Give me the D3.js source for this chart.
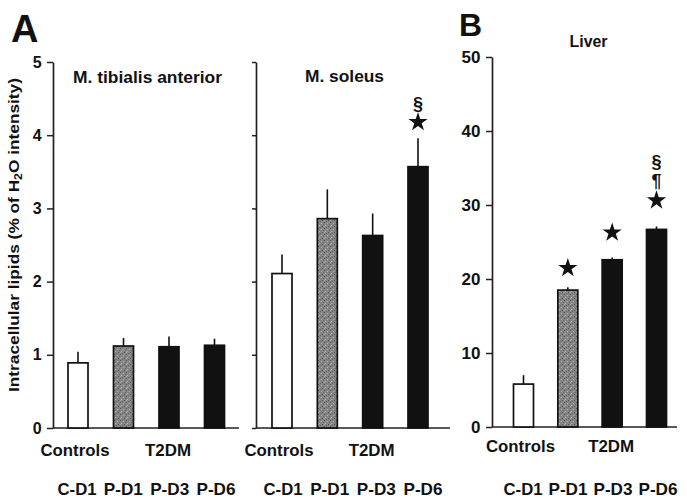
<!DOCTYPE html>
<html>
<head>
<meta charset="utf-8">
<script src="https://d3js.org/d3.v7.min.js"></script>
<style>
  html, body { margin: 0; padding: 0; background: #fff; }
  svg { display: block; }
  text { font-family: "Liberation Sans", Arial, Helvetica, sans-serif; fill: #111; }
</style>
</head>
<body>
<script>
// ---------- data ----------
const categories = ["C-D1", "P-D1", "P-D3", "P-D6"];
const groupLabels = ["Controls", "T2DM"];

const tibialisValues = [0.89, 1.12, 1.11, 1.13];
const tibialisErrors = [0.15, 0.11, 0.14, 0.09];
const tibialisMarks  = [[], [], [], []];

const soleusValues = [2.11, 2.86, 2.63, 3.57];
const soleusErrors = [0.26, 0.40, 0.30, 0.39];
const soleusMarks  = [[], [], [], ["★", "§"]];

const liverValues = [5.8, 18.5, 22.6, 26.7];
const liverErrors = [1.2, 0.4, 0.3, 0.4];
const liverMarks  = [[], ["★"], ["★"], ["★", "¶", "§"]];

const muscleTicks = [0, 1, 2, 3, 4, 5];
const liverTicks  = [0, 10, 20, 30, 40, 50];

const panelTitles = ["M. tibialis anterior", "M. soleus", "Liver"];

// ---------- drawing ----------
const W = 687, H = 499;
const svg = d3.select("body").append("svg").attr("width", W).attr("height", H);

// stipple pattern for P-D1 bars
const defs = svg.append("defs");
const pat = defs.append("pattern").attr("id", "stipple")
  .attr("patternUnits", "userSpaceOnUse").attr("width", 6).attr("height", 6);
pat.append("rect").attr("width", 6).attr("height", 6).attr("fill", "#858585");
[[0,0,"#555"],[3,1,"#b0b0b0"],[1,3,"#b8b8b8"],[4,4,"#505050"],[2,5,"#666"],[5,2,"#6a6a6a"],[0,4,"#a5a5a5"]]
  .forEach(([x,y,c]) => pat.append("rect").attr("x", x).attr("y", y).attr("width", 1).attr("height", 1).attr("fill", c));

const fills = ["#ffffff", "url(#stipple)", "#111", "#111"];
const FONT = 17;

function panel(opts) {
  const g = svg.append("g");
  const y = d3.scaleLinear().domain(opts.domain).range([opts.y0, opts.y1]);
  const xBar = d3.scalePoint().domain(categories).range(opts.barRange);
  const xLab = d3.scalePoint().domain(categories).range(opts.labRange);
  const bw = 20;

  // y axis
  const axis = d3.axisLeft(y).tickValues(opts.ticks).tickSize(opts.tickLen).tickSizeOuter(0)
    .tickFormat(opts.showLabels ? d3.format("d") : () => "");
  const ag = g.append("g").attr("transform", `translate(${opts.axisX},0)`).call(axis);
  ag.select(".domain").attr("stroke", "#222").attr("stroke-width", 1.7);
  ag.selectAll(".tick line").attr("stroke", "#222").attr("stroke-width", 1.5);
  ag.selectAll(".tick text").attr("font-size", opts.tickFont).attr("font-weight", "bold")
    .attr("fill", "#111").attr("dx", "-0.15em")
    .style("font-family", '"Liberation Sans", Arial, sans-serif');

  // x baseline
  g.append("line").attr("x1", opts.axisX).attr("x2", opts.xEnd)
    .attr("y1", y(0)).attr("y2", y(0)).attr("stroke", "#222").attr("stroke-width", 1.7);

  // error bars
  g.selectAll("line.err").data(opts.values).enter().append("line").attr("class", "err")
    .attr("x1", (d, i) => xBar(categories[i])).attr("x2", (d, i) => xBar(categories[i]))
    .attr("y1", d => y(d)).attr("y2", (d, i) => y(d + opts.errors[i]))
    .attr("stroke", "#111").attr("stroke-width", 1.6);

  // bars
  g.selectAll("rect.bar").data(opts.values).enter().append("rect").attr("class", "bar")
    .attr("x", (d, i) => xBar(categories[i]) - bw / 2).attr("width", bw)
    .attr("y", d => y(d)).attr("height", d => y(0) - y(d))
    .attr("fill", (d, i) => fills[i]).attr("stroke", "#111").attr("stroke-width", 1.7);

  // significance marks
  opts.values.forEach((v, i) => {
    const top = y(v + opts.errors[i]);
    opts.marks[i].forEach((m, k) => {
      const cy = top - opts.starOff[i] - k * opts.markStep;
      if (m === "★") {
        g.append("path").attr("d", d3.symbol().type(d3.symbolStar).size(115)())
          .attr("transform", `translate(${xBar(categories[i])},${cy})`).attr("fill", "#111");
      } else {
        g.append("text").attr("x", xBar(categories[i])).attr("y", cy + 6)
          .attr("text-anchor", "middle").attr("font-size", 18).attr("font-weight", "bold").text(m);
      }
    });
  });

  // title
  g.append("text").attr("x", opts.titleX).attr("y", opts.titleY).attr("text-anchor", "middle")
    .attr("font-size", 16).attr("font-weight", "bold")
    .attr("textLength", opts.titleLen).attr("lengthAdjust", "spacingAndGlyphs").text(opts.title);

  // group labels
  g.append("text").attr("x", xBar("C-D1") - 3).attr("y", opts.groupY).attr("text-anchor", "middle")
    .attr("font-size", FONT).attr("font-weight", "bold")
    .attr("textLength", 69).attr("lengthAdjust", "spacingAndGlyphs").text(groupLabels[0]);
  g.append("text").attr("x", xBar("P-D3") - 1).attr("y", opts.groupY).attr("text-anchor", "middle")
    .attr("font-size", FONT).attr("font-weight", "bold")
    .attr("textLength", 46).attr("lengthAdjust", "spacingAndGlyphs").text(groupLabels[1]);

  // category labels
  g.selectAll("text.cat").data(categories).enter().append("text").attr("class", "cat")
    .attr("x", d => xLab(d)).attr("y", 495).attr("text-anchor", "middle")
    .attr("font-size", FONT).attr("font-weight", "bold")
    .attr("textLength", 39).attr("lengthAdjust", "spacingAndGlyphs").text(d => d);
}

panel({
  domain: [0, 5], y0: 428, y1: 62, ticks: muscleTicks, tickLen: 6, showLabels: true, tickFont: 16,
  axisX: 53, xEnd: 239, barRange: [78, 214.5], labRange: [77, 216],
  values: tibialisValues, errors: tibialisErrors, marks: tibialisMarks, starOff: [16,16,16,16], markStep: 18,
  title: panelTitles[0], titleX: 147.5, titleY: 83, titleLen: 149, groupY: 456
});
panel({
  domain: [0, 5], y0: 428, y1: 62, ticks: muscleTicks, tickLen: 4, showLabels: false, tickFont: 16,
  axisX: 256, xEnd: 450, barRange: [282, 418], labRange: [283, 423],
  values: soleusValues, errors: soleusErrors, marks: soleusMarks, starOff: [16,16,16,16], markStep: 18,
  title: panelTitles[1], titleX: 344.5, titleY: 82, titleLen: 79, groupY: 456
});
panel({
  domain: [0, 50], y0: 427, y1: 57, ticks: liverTicks, tickLen: 6, showLabels: true, tickFont: 17,
  axisX: 492, xEnd: 677, barRange: [523.5, 656.5], labRange: [523, 658],
  values: liverValues, errors: liverErrors, marks: liverMarks, starOff: [20,19,25,26], markStep: 19,
  title: panelTitles[2], titleX: 588.5, titleY: 47, titleLen: 38, groupY: 452
});

// y axis title (with subscript)
const yt = svg.append("text").attr("transform", "translate(19,235) rotate(-90)")
  .attr("text-anchor", "middle").attr("font-size", 14).attr("font-weight", "bold")
  .attr("textLength", 314).attr("lengthAdjust", "spacingAndGlyphs");
yt.append("tspan").text("Intracellular lipids (% of H");
yt.append("tspan").attr("font-size", 10).attr("dy", 3).text("2");
yt.append("tspan").attr("dy", -3).text("O intensity)");

// panel letters
svg.append("text").attr("x", 11).attr("y", 42).attr("font-size", 38).attr("font-weight", "bold").text("A");
svg.append("text").attr("x", 459).attr("y", 36).attr("font-size", 32).attr("font-weight", "bold").text("B");
</script>
</body>
</html>
